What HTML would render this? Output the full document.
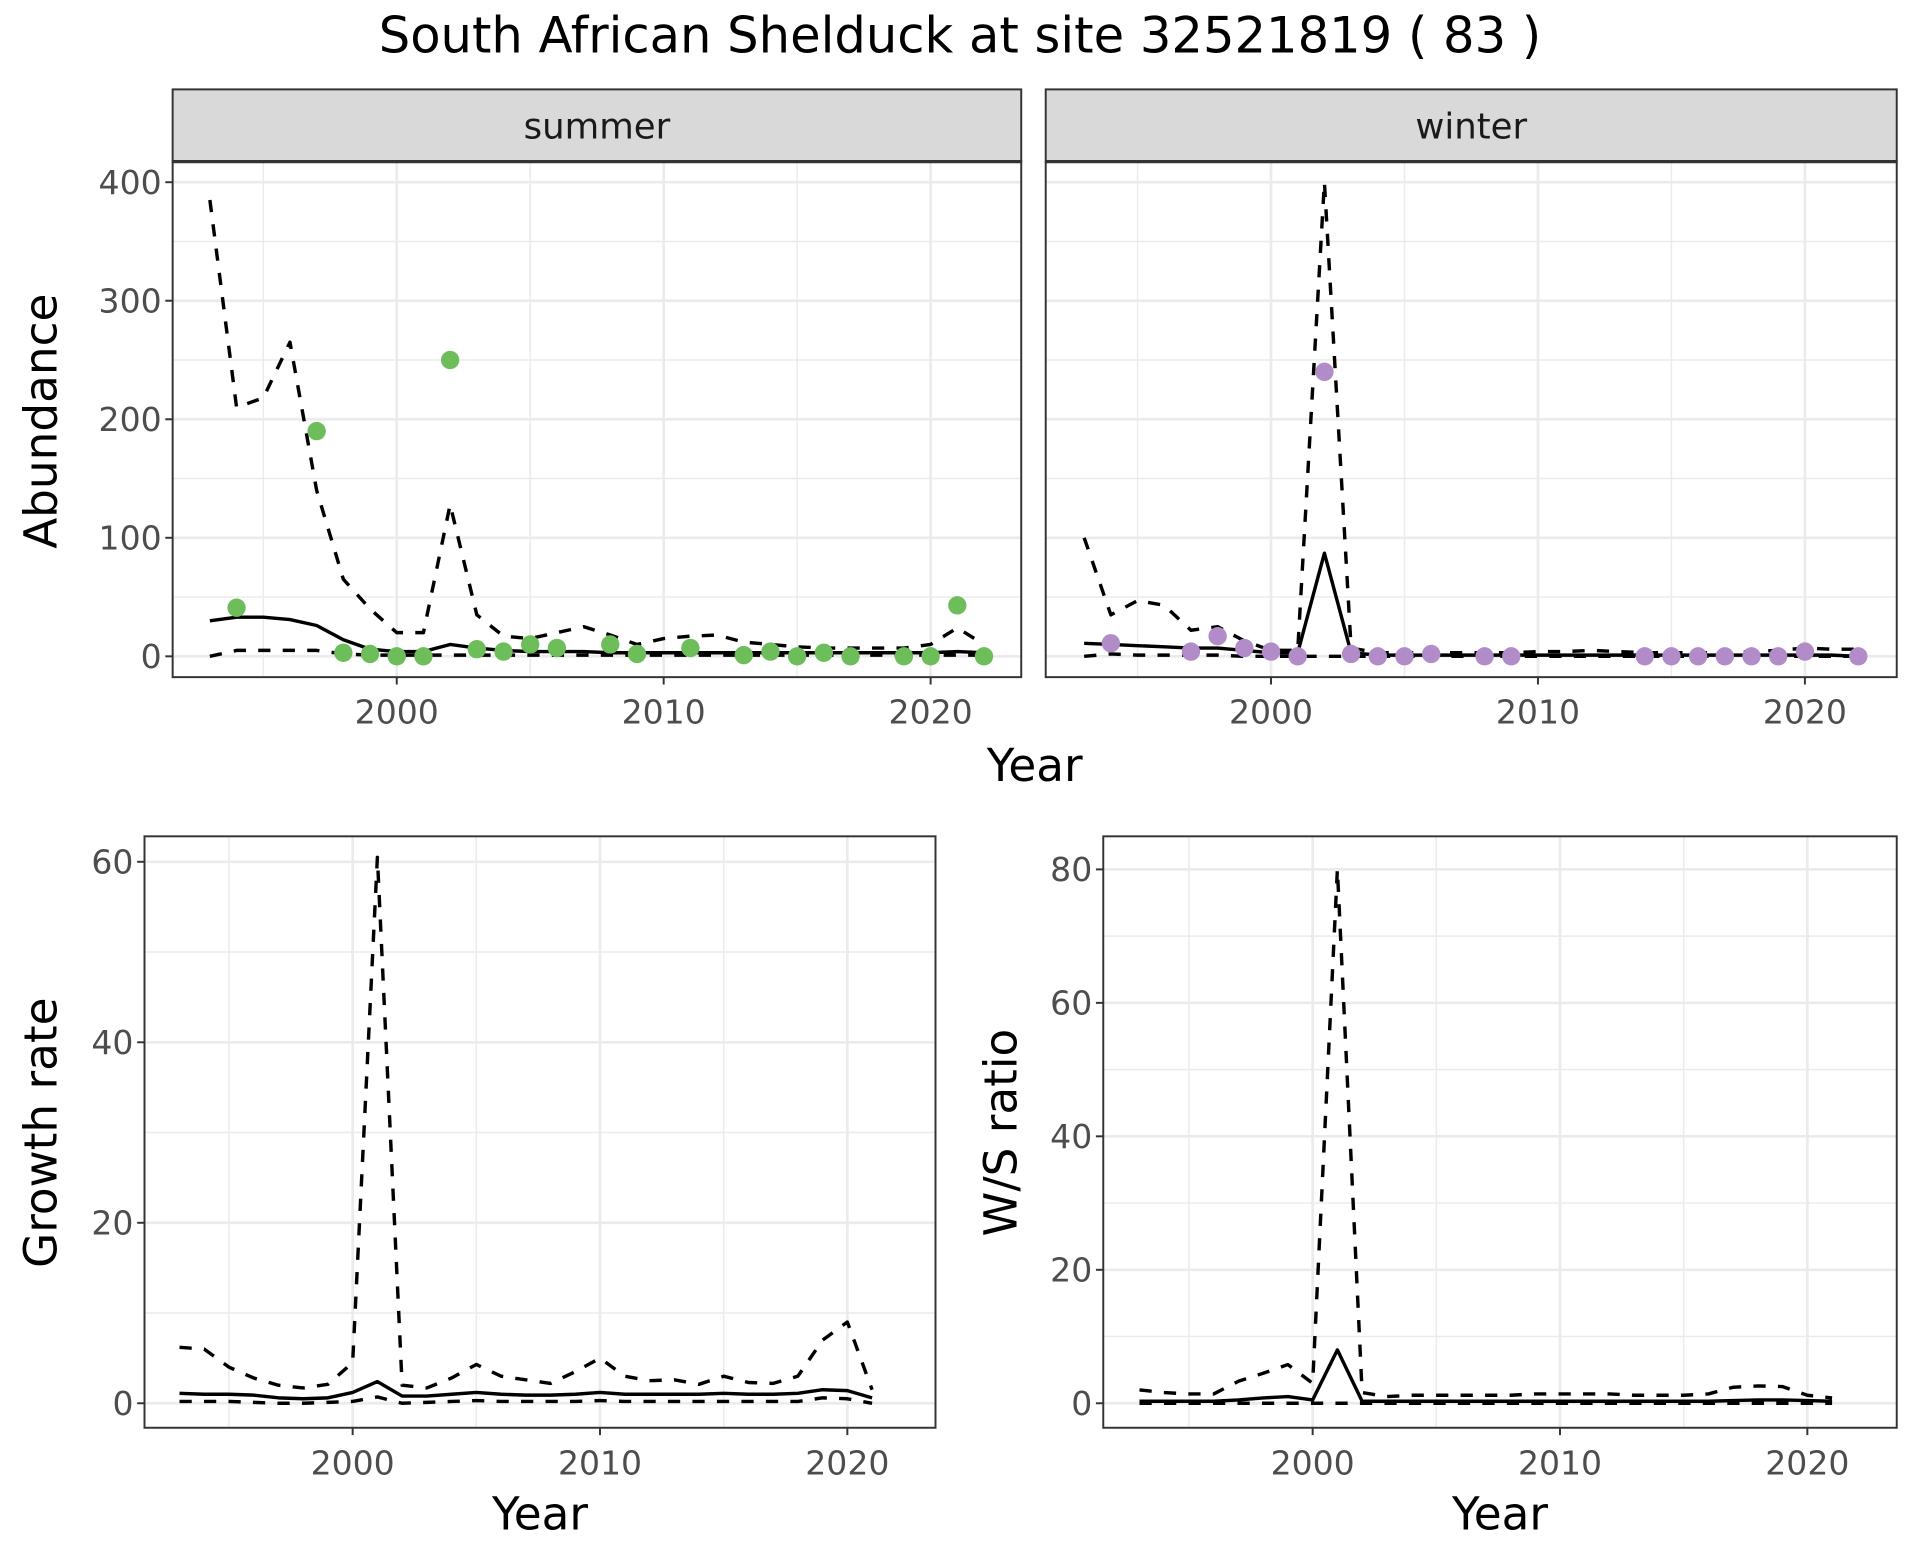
<!DOCTYPE html>
<html><head><meta charset="utf-8"><style>
body{margin:0;background:#fff}
svg{display:block;font-family:"DejaVu Sans","Liberation Sans",sans-serif}
</style></head><body>
<svg id="c" width="1920" height="1560" viewBox="0 0 1568 1274"></svg>
<script>
const sYears=[1993,1994,1995,1996,1997,1998,1999,2000,2001,2002,2003,2004,2005,2006,2007,2008,2009,2010,2011,2012,2013,2014,2015,2016,2017,2018,2019,2020,2021,2022];
const sMean=[30,33,33,31,26,14,6,4,4,10,7,5,4,4,4,3,3,3,3,3,3,3,3,3,3,3,3,3,4,3];
const sUpper=[385,210,218,265,140,65,40,20,20,128,35,17,15,20,25,18,10,15,17,18,12,10,8,7,7,7,7,10,24,10];
const sLower=[0,5,5,5,5,2,1,1,1,1,1,1,1,1,1,1,1,1,1,1,1,1,1,1,1,1,1,1,1,1];
const sPtYears=[1994,1997,1998,1999,2000,2001,2002,2003,2004,2005,2006,2008,2009,2011,2013,2014,2015,2016,2017,2019,2020,2021,2022];
const sPtVals=[41,190,3,2,0,0,250,6,4,10,7,10,2,7,1,4,0,3,0,0,0,43,0];
const wMean=[11,10,9,8,7,7,5,3,3,87,3,1,1,1,1,1,1,1,1,1,1,1,1,1,1,1,1,1,1,0];
const wUpper=[100,35,47,43,22,25,13,5,5,400,7,3,3,3,3,3,3,4,4,5,4,3,3,3,3,4,5,7,6,6];
const wLower=[0,2,1,1,1,1,0,0,0,0,0,0,0,0,0,0,0,0,0,0,0,0,0,0,0,0,0,0,0,0];
const wPtYears=[1994,1997,1998,1999,2000,2001,2002,2003,2004,2005,2006,2008,2009,2014,2015,2016,2017,2018,2019,2020,2022];
const wPtVals=[11,4,17,7,4,0,240,2,0,0,2,0,0,0,0,0,0,0,0,4,0];
const gYears=[1993,1994,1995,1996,1997,1998,1999,2000,2001,2002,2003,2004,2005,2006,2007,2008,2009,2010,2011,2012,2013,2014,2015,2016,2017,2018,2019,2020,2021];
const gMean=[1.1,1.0,1.0,0.9,0.6,0.5,0.6,1.2,2.4,0.8,0.8,1.0,1.2,1.0,0.9,0.9,1.0,1.2,1.0,1.0,1.0,1.0,1.1,1.0,1.0,1.1,1.5,1.4,0.6];
const gUpper=[6.2,6,4,2.8,2,1.7,2.1,4.5,60.5,2,1.7,2.8,4.3,3,2.6,2.2,3.5,5,3,2.5,2.6,2.1,3,2.3,2.2,3,7,9,1.5];
const gLower=[0.2,0.2,0.2,0.1,0,0,0.1,0.2,0.7,0,0.1,0.2,0.3,0.2,0.2,0.2,0.2,0.3,0.2,0.2,0.2,0.2,0.2,0.2,0.2,0.2,0.6,0.5,0];
const rMean=[0.3,0.3,0.3,0.3,0.5,0.8,1,0.5,8,0.3,0.3,0.3,0.3,0.3,0.3,0.3,0.3,0.3,0.3,0.3,0.3,0.3,0.3,0.3,0.4,0.5,0.5,0.4,0.3];
const rUpper=[2,1.6,1.4,1.4,3.3,4.5,5.8,3,80,1.6,1,1.2,1.2,1.2,1.2,1.2,1.4,1.4,1.4,1.4,1.2,1.2,1.2,1.4,2.4,2.6,2.5,1.2,0.8];
const rLower=[0,0,0,0,0,0,0,0,0,0,0,0,0,0,0,0,0,0,0,0,0,0,0,0,0,0,0,0,0];
const xTicks=[2000,2010,2020];
const abTicks=[0,100,200,300,400];
const gTicks=[0,20,40,60];
const rTicks=[0,20,40,60,80];

const svg=document.getElementById('c');const NS='http://www.w3.org/2000/svg';
function el(t,a,p){const e=document.createElementNS(NS,t);for(const k in a)e.setAttribute(k,a[k]);(p||svg).appendChild(e);return e;}
function txt(s,a,p){const e=el('text',a,p);e.textContent=s;return e;}

function panel(o){
  const g=el('g',{});
  
  
  const X=v=>o.x0+(v-o.xmin)*o.xs, Y=v=>o.y0-(v-o.ymin)*o.ys;
  for(let v=o.xmin0;v<=o.xmax0;v+=5){if(xTicks.indexOf(v)<0)el('line',{x1:X(v),x2:X(v),y1:o.top,y2:o.bot,stroke:'#ebebeb','stroke-width':1.2},g);}
  for(let i=0;i<o.yt.length-1;i++){const v=(o.yt[i]+o.yt[i+1])/2;el('line',{x1:o.left,x2:o.right,y1:Y(v),y2:Y(v),stroke:'#ebebeb','stroke-width':1.2},g);}
  xTicks.forEach(v=>el('line',{x1:X(v),x2:X(v),y1:o.top,y2:o.bot,stroke:'#ebebeb','stroke-width':2.2},g));
  o.yt.forEach(v=>el('line',{x1:o.left,x2:o.right,y1:Y(v),y2:Y(v),stroke:'#ebebeb','stroke-width':2.2},g));
  const line=(xs,ys,dash,nm)=>{const p=el('polyline',{points:xs.map((x,i)=>X(x)+','+Y(ys[i])).join(' '),fill:'none',stroke:'#000','stroke-width':2.8,'stroke-dasharray':dash?'10 10':'none','stroke-linejoin':'round'},g);};
  line(o.years,o.upper,true,'upper-bound-line');line(o.years,o.lower,true,'lower-bound-line');line(o.years,o.mean,false,'mean-line');
  if(o.py){o.py.forEach((x,i)=>{const c=el('circle',{cx:X(x),cy:Y(o.pv[i]),r:7.5,fill:o.col},g);});}
  el('rect',{x:o.left,y:o.top,width:o.right-o.left,height:o.bot-o.top,fill:'none',stroke:'#333','stroke-width':1.6},g);
  if(o.showY){o.yt.forEach(v=>{el('line',{x1:o.left-6,x2:o.left,y1:Y(v),y2:Y(v),stroke:'#333','stroke-width':1.6},g);const t=txt(v,{x:o.left-9,y:Y(v)+9.5,'text-anchor':'end','font-size':27,fill:'#4d4d4d'},g);});}
  xTicks.forEach(v=>{el('line',{x1:X(v),x2:X(v),y1:o.bot,y2:o.bot+6,stroke:'#333','stroke-width':1.6},g);const t=txt(v,{x:X(v),y:o.bot+38,'text-anchor':'middle','font-size':27,fill:'#4d4d4d'},g);});
  if(o.strip){const r=el('rect',{x:o.left,y:73,width:o.right-o.left,height:o.top-73,fill:'#d9d9d9',stroke:'#333','stroke-width':1.6},g);el('line',{x1:o.left,x2:o.right,y1:o.top,y2:o.top,stroke:'#333','stroke-width':2.6},g);const t=txt(o.strip,{x:(o.left+o.right)/2,y:113,'text-anchor':'middle','font-size':29,fill:'#1a1a1a'},g);}
  return g;
}
panel({name:'summer-panel',left:141,right:834,top:132,bot:553,x0:324,xmin:2000,xs:21.8,y0:536,ymin:0,ys:0.968,xmin0:1995,xmax0:2020,yt:abTicks,years:sYears,mean:sMean,upper:sUpper,lower:sLower,py:sPtYears,pv:sPtVals,col:'#6dbd5b',showY:true,strip:'summer'});
panel({name:'winter-panel',left:854,right:1549,top:132,bot:553,x0:1038,xmin:2000,xs:21.8,y0:536,ymin:0,ys:0.968,xmin0:1995,xmax0:2020,yt:abTicks,years:sYears,mean:wMean,upper:wUpper,lower:wLower,py:wPtYears,pv:wPtVals,col:'#b18cc8',showY:false,strip:'winter'});
panel({name:'growth-rate-panel',left:118,right:764,top:683,bot:1166,x0:288,xmin:2000,xs:20.2,y0:1146,ymin:0,ys:7.37,xmin0:1995,xmax0:2020,yt:gTicks,years:gYears,mean:gMean,upper:gUpper,lower:gLower,showY:true});
panel({name:'ws-ratio-panel',left:901,right:1549,top:683,bot:1166,x0:1072,xmin:2000,xs:20.2,y0:1146,ymin:0,ys:5.45,xmin0:1995,xmax0:2020,yt:rTicks,years:gYears,mean:rMean,upper:rUpper,lower:rLower,showY:true});
function label(s,a,nm){const t=txt(s,a);}
label('South African Shelduck at site 32521819 ( 83 )',{x:784,y:43,'text-anchor':'middle','font-size':40.5,fill:'#000'},'chart-title');
label('Year',{x:845,y:638,'text-anchor':'middle','font-size':37,fill:'#000'},'x-axis-title');
label('Year',{x:441,y:1249,'text-anchor':'middle','font-size':37,fill:'#000'},'growth-x-axis-title');
label('Year',{x:1225,y:1249,'text-anchor':'middle','font-size':37,fill:'#000'},'ratio-x-axis-title');
label('Abundance',{x:0,y:0,transform:'translate(46,344) rotate(-90)','text-anchor':'middle','font-size':37,fill:'#000'},'y-axis-title');
label('Growth rate',{x:0,y:0,transform:'translate(46,925) rotate(-90)','text-anchor':'middle','font-size':37,fill:'#000'},'growth-y-axis-title');
label('W/S ratio',{x:0,y:0,transform:'translate(830,925) rotate(-90)','text-anchor':'middle','font-size':37,fill:'#000'},'ratio-y-axis-title');
</script>
</body></html>
